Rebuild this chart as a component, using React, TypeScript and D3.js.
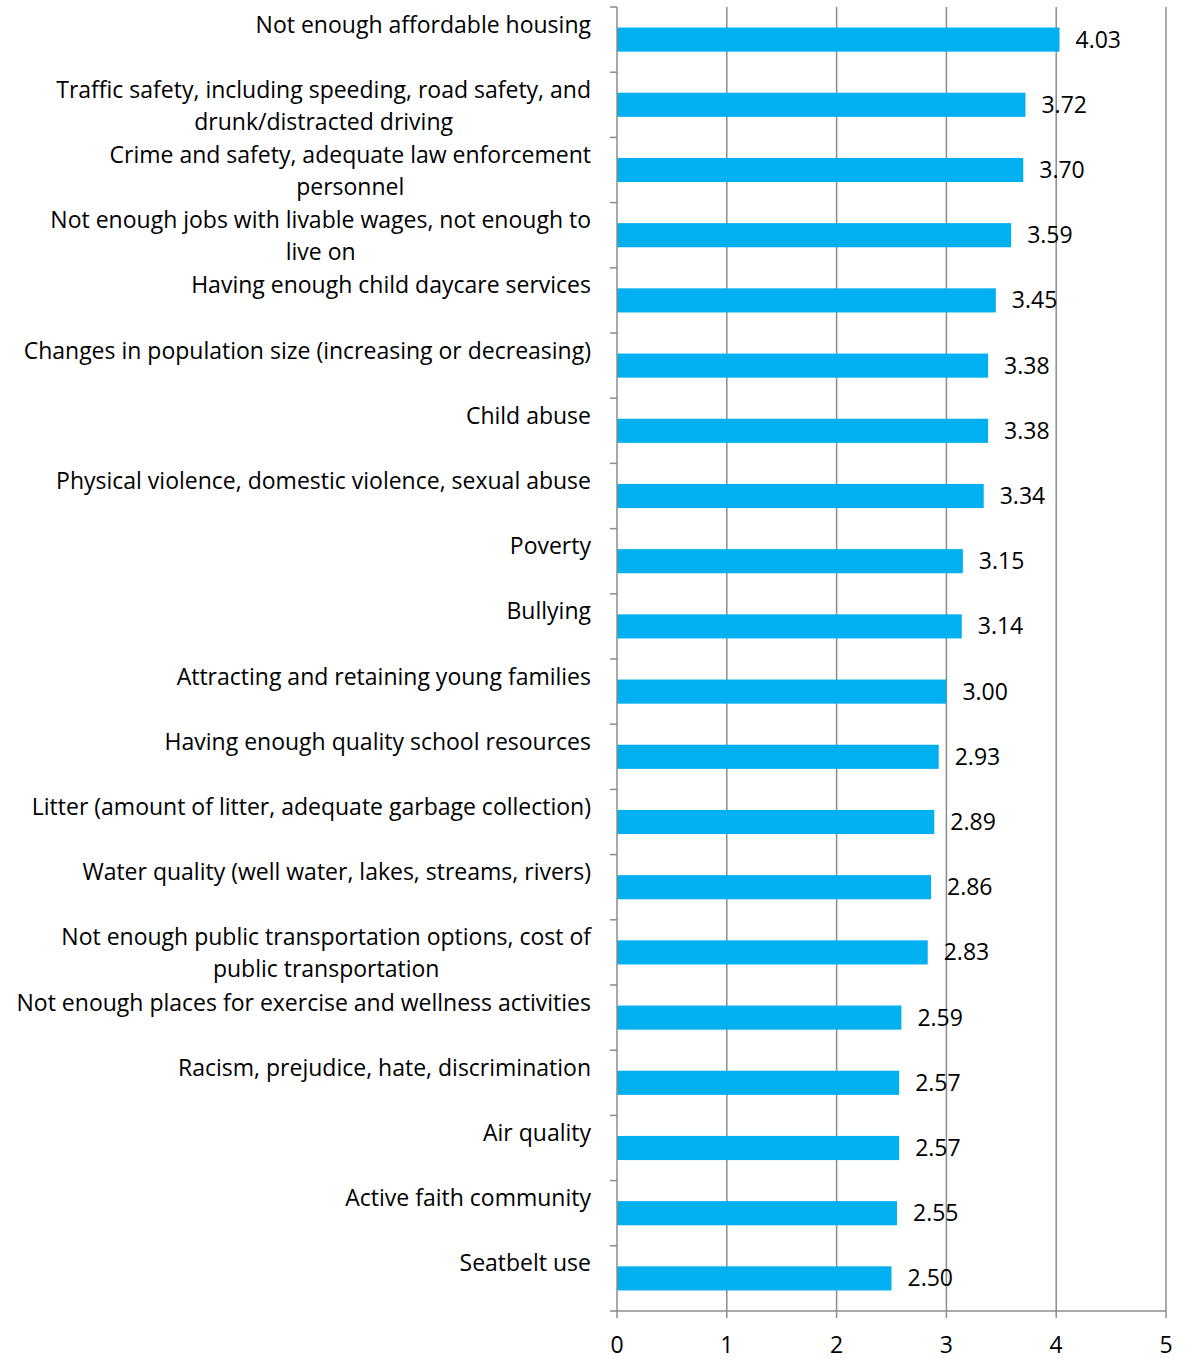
import React from "react";
import * as d3 from "d3";

const categories: string[] = [
  "Not enough affordable housing",
  "Traffic safety, including speeding, road safety, and\ndrunk/distracted driving",
  "Crime and safety, adequate law enforcement\npersonnel",
  "Not enough jobs with livable wages, not enough to\nlive on",
  "Having enough child daycare services",
  "Changes in population size (increasing or decreasing)",
  "Child abuse",
  "Physical violence, domestic violence, sexual abuse",
  "Poverty",
  "Bullying",
  "Attracting and retaining young families",
  "Having enough quality school resources",
  "Litter (amount of litter, adequate garbage collection)",
  "Water quality (well water, lakes, streams, rivers)",
  "Not enough public transportation options, cost of\npublic transportation",
  "Not enough places for exercise and wellness activities",
  "Racism, prejudice, hate, discrimination",
  "Air quality",
  "Active faith community",
  "Seatbelt use",
];

const values: number[] = [
  4.03, 3.72, 3.7, 3.59, 3.45, 3.38, 3.38, 3.34, 3.15, 3.14, 3.0, 2.93, 2.89,
  2.86, 2.83, 2.59, 2.57, 2.57, 2.55, 2.5,
];

const xTicks: number[] = [0, 1, 2, 3, 4, 5];

const W = 1189;
const H = 1359;
const left = 617;
const right = 1166;
const top = 7;
const bottom = 1311;
const FONT = "'Open Sans', sans-serif";
const FS = 23;
const BAR = "#00B0F0";
const GRID = "#8c8c8c";
const LABEL_RIGHT = 591;

function measure(s: string): number {
  const c = document.createElement("canvas");
  const ctx = c.getContext("2d");
  if (!ctx) return s.length * FS * 0.5;
  ctx.font = `${FS}px 'Open Sans'`;
  return ctx.measureText(s).width;
}

export default function App() {
  const x = d3.scaleLinear().domain([0, 5]).range([left, right]);
  const y = d3
    .scaleBand<number>()
    .domain(d3.range(categories.length))
    .range([top, bottom]);
  const bw = y.bandwidth();
  const barH = bw * 0.37;
  const boundaries = d3.range(categories.length + 1).map((i) => top + i * bw);

  return (
    <svg
      width={W}
      height={H}
      style={{ position: "absolute", left: 0, top: 0, background: "#fff" }}
      fontFamily={FONT}
    >
      {xTicks.slice(1).map((t) => (
        <line
          key={"g" + t}
          x1={x(t)}
          x2={x(t)}
          y1={top}
          y2={bottom}
          stroke={GRID}
          strokeWidth={1.5}
        />
      ))}
      {values.map((v, i) => {
        const cy = (y(i) as number) + bw / 2;
        return (
          <g key={"b" + i}>
            <rect
              x={x(0)}
              y={cy - barH / 2}
              width={x(v) - x(0)}
              height={barH}
              fill={BAR}
            />
            <text x={x(v) + 16} y={cy} dy="0.35em" fontSize={FS} fill="#000">
              {v.toFixed(2)}
            </text>
          </g>
        );
      })}
      <line x1={left} x2={left} y1={top} y2={bottom} stroke={GRID} strokeWidth={1.5} />
      {boundaries.map((b, i) => (
        <line key={"lt" + i} x1={left - 7} x2={left} y1={b} y2={b} stroke={GRID} strokeWidth={1.5} />
      ))}
      <line x1={left} x2={right} y1={bottom} y2={bottom} stroke={GRID} strokeWidth={1.5} />
      {xTicks.map((t) => (
        <g key={"xt" + t}>
          <line x1={x(t)} x2={x(t)} y1={bottom} y2={bottom + 7} stroke={GRID} strokeWidth={1.5} />
          <text x={x(t)} y={1345} dy="0.35em" textAnchor="middle" fontSize={FS} fill="#000">
            {t}
          </text>
        </g>
      ))}
      {categories.map((c, i) => {
        const cy = (y(i) as number) + bw / 2;
        const lines = c.split("\n");
        const multi = lines.length > 1;
        const maxW = multi ? Math.max(...lines.map(measure)) : 0;
        const cx = LABEL_RIGHT - maxW / 2;
        return (
          <text key={"c" + i} fontSize={FS} fill="#000">
            {lines.map((ln, j) => (
              <tspan
                key={j}
                x={multi ? cx : LABEL_RIGHT}
                y={cy - 15 + j * 32}
                dy="0.35em"
                textAnchor={multi ? "middle" : "end"}
              >
                {ln}
              </tspan>
            ))}
          </text>
        );
      })}
    </svg>
  );
}
